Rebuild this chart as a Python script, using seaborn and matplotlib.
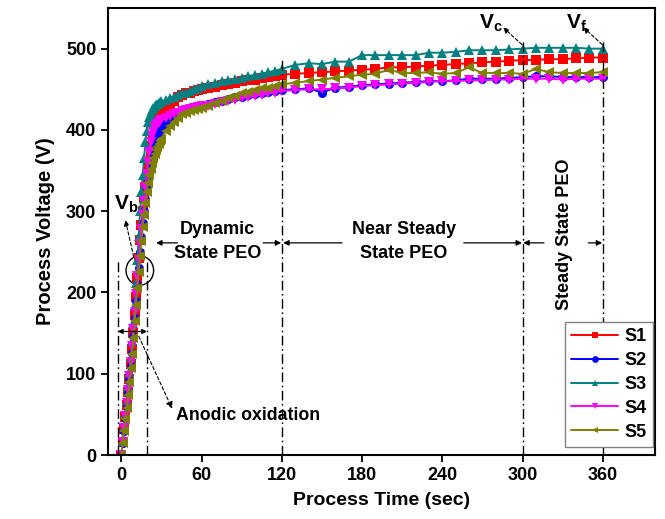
import numpy as np
import pandas as pd
import matplotlib
matplotlib.use("Agg")
import matplotlib.pyplot as plt
from matplotlib.patches import Ellipse
import seaborn as sns

# ─── Data ────────────────────────────────────────────────────────────────────

time_s = [0, 1, 2, 3, 4, 5, 6, 7, 8, 9, 10, 11, 12, 13, 14, 15, 16, 17, 18, 19,
          20, 21, 22, 23, 24, 25, 26, 27, 28, 29, 30,
          33, 36, 39, 42, 45, 48, 51, 54, 57, 60,
          65, 70, 75, 80, 85, 90, 95, 100, 105, 110, 115, 120,
          130, 140, 150, 160, 170, 180, 190, 200, 210, 220, 230, 240,
          250, 260, 270, 280, 290, 300, 310, 320, 330, 340, 350, 360]

s1 = [0, 16, 32, 47, 62, 78, 94, 112, 130, 150, 172, 195, 218, 242, 265, 283,
      300, 316, 330, 342, 352, 361, 370, 380, 390, 398, 405, 410, 415, 418, 420,
      426, 432, 436, 440, 443, 445, 446, 448, 449, 450,
      451, 453, 455, 457, 458, 460, 461, 462, 464, 465, 466, 468,
      469, 470, 471, 472, 473, 474, 475, 477, 477, 478, 479, 480,
      481, 482, 483, 484, 485, 486, 486, 487, 487, 488, 489, 489]

s2 = [0, 15, 30, 45, 60, 76, 92, 109, 126, 146, 168, 189, 210, 230, 250, 268,
      285, 300, 315, 328, 340, 349, 358, 366, 373, 379, 385, 390, 395, 399, 402,
      408, 412, 416, 420, 423, 425, 427, 428, 430, 431,
      432, 434, 436, 438, 440, 441, 443, 444, 446, 447, 448, 449,
      450, 451, 446, 452, 453, 455, 456, 457, 458, 459, 460, 460,
      461, 463, 463, 463, 464, 465, 466, 466, 465, 465, 465, 465]

s3 = [0, 17, 35, 51, 68, 85, 102, 120, 140, 162, 185, 212, 240, 270, 300, 323,
      345, 366, 385, 399, 410, 416, 420, 424, 427, 429, 431, 432, 433, 434, 435,
      437, 439, 441, 443, 445, 446, 448, 450, 452, 454,
      456, 458, 460, 461, 463, 464, 466, 468, 469, 471, 473, 475,
      480, 482, 481, 484, 484, 492, 492, 492, 492, 492, 495, 495,
      496, 498, 498, 498, 499, 500, 501, 501, 501, 501, 500, 500]

s4 = [0, 16, 33, 48, 64, 80, 97, 115, 134, 155, 176, 198, 220, 240, 260, 278,
      295, 313, 330, 346, 360, 373, 385, 392, 398, 402, 405, 407, 409, 411, 412,
      415, 417, 419, 421, 423, 424, 426, 427, 428, 429,
      430, 432, 434, 436, 437, 439, 440, 442, 443, 445, 446, 448,
      449, 450, 450, 451, 452, 454, 455, 456, 457, 458, 459, 460,
      460, 461, 461, 462, 462, 463, 463, 463, 462, 463, 463, 463]

s5 = [0, 15, 30, 44, 58, 74, 90, 107, 124, 144, 165, 185, 205, 225, 245, 263,
      280, 295, 310, 323, 335, 344, 352, 359, 365, 370, 375, 379, 383, 386, 389,
      399, 405, 410, 415, 419, 421, 423, 425, 426, 427,
      430, 433, 436, 439, 442, 445, 447, 449, 451, 452, 454, 456,
      458, 460, 462, 464, 466, 468, 469, 474, 470, 470, 471, 469,
      470, 477, 470, 470, 470, 469, 475, 471, 470, 470, 470, 471]

series_names = ["S1", "S2", "S3", "S4", "S5"]
series_values = [s1, s2, s3, s4, s5]
colors = ["#ff0000", "#0000ff", "#008080", "#ff00ff", "#808000"]
markers = ["s", "o", "^", "v", "<"]

# ─── Plot ────────────────────────────────────────────────────────────────────

sns.set_style("ticks")
plt.rcParams["font.family"] = ["Liberation Sans", "DejaVu Sans"]
plt.rcParams["font.weight"] = "bold"
plt.rcParams["text.color"] = "black"
plt.rcParams["axes.labelcolor"] = "black"
plt.rcParams["xtick.color"] = "black"
plt.rcParams["ytick.color"] = "black"
plt.rcParams["mathtext.fontset"] = "custom"
plt.rcParams["mathtext.rm"] = "Liberation Sans:bold"
plt.rcParams["mathtext.bf"] = "Liberation Sans:bold"

fig = plt.figure(figsize=(6.65, 5.19), dpi=100)
ax = fig.add_axes([0.1624, 0.1233, 0.8226, 0.8613])

for name, vals, col, mk in zip(series_names, series_values, colors, markers):
    df = pd.DataFrame({"t": time_s, "v": vals})
    sns.lineplot(data=df, x="t", y="v", ax=ax, color=col, marker=mk,
                 markersize=6.5, markeredgecolor=col, markeredgewidth=0,
                 linewidth=1.4, label=name)

# region boundaries
lk = dict(color="black", linestyle=(0, (7, 2.5, 1.2, 2.5)), linewidth=1)
ax.plot([-2.7, -2.7], [0, 240], **lk)
ax.plot([19.2, 19.2], [0, 240], **lk)
ax.plot([120, 120], [0, 488], **lk)
ax.plot([300, 300], [0, 512], **lk)
ax.plot([360, 360], [0, 510], **lk)

ak = dict(arrowstyle="-|>", color="black", lw=0.9, mutation_scale=8,
          shrinkA=0, shrinkB=0)
txt = dict(fontsize=13, fontweight="bold", ha="center", va="center")

# Dynamic State PEO
ax.text(72, 277, "Dynamic", **txt)
ax.text(72, 248, "State PEO", **txt)
ax.annotate("", xy=(26, 261), xytext=(42, 261), arrowprops=ak)
ax.annotate("", xy=(119.5, 261), xytext=(106, 261), arrowprops=ak)

# Near Steady State PEO
ax.text(211, 277, "Near Steady", **txt)
ax.text(211, 248, "State PEO", **txt)
ax.annotate("", xy=(121, 261), xytext=(165, 261), arrowprops=ak)
ax.annotate("", xy=(299.5, 261), xytext=(256, 261), arrowprops=ak)

# Steady State PEO
ax.text(331, 272, "Steady State PEO", rotation=90, **txt)
ax.annotate("", xy=(300.5, 261), xytext=(316, 261), arrowprops=ak)
ax.annotate("", xy=(359.5, 261), xytext=(349, 261), arrowprops=ak)

# Anodic oxidation
ax.annotate("", xy=(-2.7, 152), xytext=(19.2, 152),
            arrowprops=dict(arrowstyle="<|-|>", color="black", lw=0.9,
                            mutation_scale=7, shrinkA=0, shrinkB=0))
ax.annotate("", xy=(38, 57), xytext=(13, 146),
            arrowprops=dict(arrowstyle="-|>", color="black", lw=0.8,
                            linestyle=(0, (3, 2)), mutation_scale=10,
                            shrinkA=0, shrinkB=0))
ax.text(41, 48, "Anodic oxidation", fontsize=12.8, fontweight="bold",
        ha="left", va="center")

# V_b with circle
ax.add_patch(Ellipse((13.8, 227), width=20.6, height=36, fill=False,
                     edgecolor="black", linewidth=1))
ax.annotate("", xy=(3, 289), xytext=(9.2, 244),
            arrowprops=dict(arrowstyle="-|>", color="black", lw=0.8,
                            linestyle=(0, (3, 2)), mutation_scale=8,
                            shrinkA=0, shrinkB=0))
ax.text(4, 308, r"$\mathbf{V}_\mathbf{b}$", fontsize=15, ha="center", va="center")

# V_c and V_f
ax.annotate("", xy=(285.5, 526), xytext=(299.5, 505),
            arrowprops=dict(arrowstyle="-|>", color="black", lw=0.8,
                            linestyle=(0, (3, 2)), mutation_scale=8,
                            shrinkA=0, shrinkB=0))
ax.text(276, 531, r"$\mathbf{V}_\mathbf{c}$", fontsize=15, ha="center", va="center")
ax.annotate("", xy=(345.5, 526), xytext=(359.5, 505),
            arrowprops=dict(arrowstyle="-|>", color="black", lw=0.8,
                            linestyle=(0, (3, 2)), mutation_scale=8,
                            shrinkA=0, shrinkB=0))
ax.text(340, 531, r"$\mathbf{V}_\mathbf{f}$", fontsize=15, ha="center", va="center")

# axes
ax.set_xlim(-10, 399)
ax.set_ylim(0, 550)
ax.set_xticks(range(0, 361, 60))
ax.set_yticks(range(0, 501, 100))
ax.set_xlabel("Process Time (sec)", fontsize=14, fontweight="bold", labelpad=6)
ax.set_ylabel("Process Voltage (V)", fontsize=14.5, fontweight="bold", labelpad=8)
ax.tick_params(axis="both", direction="out", length=5, width=1.3,
               labelsize=13, colors="black")
for lab in ax.get_xticklabels() + ax.get_yticklabels():
    lab.set_fontweight("bold")
for sp in ax.spines.values():
    sp.set_visible(True)
    sp.set_linewidth(1.5)
    sp.set_color("black")

leg = ax.legend(loc="lower right", bbox_to_anchor=(0.996, 0.018),
                borderaxespad=0, frameon=True, fancybox=False,
                edgecolor="gray", framealpha=1, handlelength=2.6,
                handletextpad=0.35, labelspacing=0.38, borderpad=0.35,
                markerscale=0.75, prop={"size": 13, "weight": "bold"})
leg.get_frame().set_linewidth(1)

fig.savefig("out.png", dpi=100)
plt.close(fig)
